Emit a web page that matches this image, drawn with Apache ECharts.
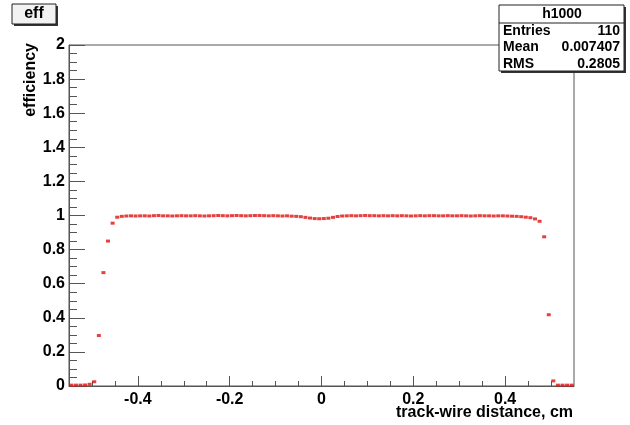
<!DOCTYPE html>
<html>
<head>
<meta charset="utf-8">
<title>eff</title>
<script src="https://cdn.jsdelivr.net/npm/echarts@6/dist/echarts.min.js"></script>
<style>
  html, body { margin: 0; padding: 0; background: #fff; }
  #chart { width: 630px; height: 425px; }
</style>
</head>
<body>
<div id="chart"></div>
<script>
// histogram h1000: 110 bins from -0.55 to 0.55
const binLow = -0.55;
const binWidth = 0.01;
const effValues = [
  0.005, 0.005, 0.005, 0.006, 0.01, 0.025, 0.296, 0.665, 0.85, 0.955, 0.99, 0.995,
  0.997, 0.998, 0.997, 0.998, 0.998, 0.997, 0.999, 1.0, 0.998, 0.998,
  0.997, 0.998, 0.999, 0.998, 0.998, 0.999, 0.998, 0.997, 0.998, 0.999,
  1.0, 0.999, 0.998, 0.999, 1.0, 0.999, 0.998, 0.999, 1.0, 1.0,
  0.999, 0.998, 0.999, 0.998, 0.997, 0.998, 0.996, 0.995,
  0.993, 0.989, 0.985, 0.982, 0.981, 0.982, 0.984, 0.989, 0.994,
  0.997, 0.998, 0.999, 0.998, 0.999, 1.0, 0.999, 0.999, 0.998, 0.999,
  0.998, 0.999, 0.998, 0.999, 0.998, 0.997, 0.998, 0.999, 0.998, 0.999,
  0.999, 0.998, 0.998, 0.999, 0.998, 0.998, 0.999, 0.998, 0.997, 0.998,
  0.999, 0.998, 0.998, 0.997, 0.998, 0.998, 0.997, 0.996, 0.995,
  0.993, 0.99, 0.987, 0.98, 0.966, 0.875, 0.418, 0.03, 0.005, 0.005, 0.005, 0.005
];
const xMajorTicks = [-0.4, -0.2, 0, 0.2, 0.4];
const xMinorTicks = [-0.5, -0.45, -0.4, -0.35, -0.3, -0.25, -0.2, -0.15, -0.1, -0.05, 0,
  0.05, 0.1, 0.15, 0.2, 0.25, 0.3, 0.35, 0.4, 0.45, 0.5];
const statRows = [['Entries', '110'], ['Mean', '0.007407'], ['RMS', '0.2805']];

const points = effValues.map((v, i) => [+(binLow + binWidth * (i + 0.5)).toFixed(3), v]);

const axisColor = '#555';
const font = '"Liberation Sans", Arial, sans-serif';

const chart = echarts.init(document.getElementById('chart'), null, { renderer: 'canvas' });

const statGraphics = [
  { type: 'rect', shape: { x: 501, y: 7, width: 125, height: 66 }, style: { fill: '#333' }, z: 100 },
  { type: 'rect', shape: { x: 499, y: 5, width: 125, height: 66 }, style: { fill: '#fff', stroke: '#222', lineWidth: 1 }, z: 101 },
  { type: 'line', shape: { x1: 499, y1: 23, x2: 624, y2: 23 }, style: { stroke: '#222', lineWidth: 1 }, z: 102 },
  { type: 'text', x: 562, y: 14, z: 102,
    style: { text: 'h1000', font: 'bold 14px ' + font, fill: '#000', textAlign: 'center', textVerticalAlign: 'middle' } }
];
statRows.forEach((r, i) => {
  const y = 31 + i * 16.5;
  statGraphics.push(
    { type: 'text', x: 503, y, z: 102,
      style: { text: r[0], font: 'bold 14px ' + font, fill: '#000', textAlign: 'left', textVerticalAlign: 'middle' } },
    { type: 'text', x: 620, y, z: 102,
      style: { text: r[1], font: 'bold 14px ' + font, fill: '#000', textAlign: 'right', textVerticalAlign: 'middle' } }
  );
});

chart.setOption({
  animation: false,
  backgroundColor: '#fff',
  grid: {
    left: 69, right: 56, top: 45, bottom: 39,
    show: true, borderColor: axisColor, borderWidth: 1, backgroundColor: 'transparent'
  },
  xAxis: [
    {
      type: 'value', min: -0.55, max: 0.55,
      axisLine: { show: true, onZero: false, lineStyle: { color: axisColor } },
      axisTick: { show: true, inside: true, length: 5, customValues: xMinorTicks, lineStyle: { color: axisColor } },
      axisLabel: { show: false },
      splitLine: { show: false }
    },
    {
      type: 'value', min: -0.55, max: 0.55, position: 'bottom',
      axisLine: { show: false, onZero: false },
      axisTick: { show: true, inside: true, length: 10, customValues: xMajorTicks, lineStyle: { color: axisColor } },
      axisLabel: {
        show: true, customValues: xMajorTicks, margin: 6,
        color: '#000', fontFamily: font, fontWeight: 'bold', fontSize: 16,
        formatter: v => String(v)
      },
      splitLine: { show: false }
    }
  ],
  yAxis: {
    type: 'value', min: 0, max: 2, interval: 0.2,
    axisLine: { show: true, onZero: false, lineStyle: { color: axisColor } },
    axisTick: { show: true, inside: true, length: 16, lineStyle: { color: axisColor } },
    minorTick: { show: true, splitNumber: 4, length: 8, lineStyle: { color: axisColor } },
    axisLabel: {
      margin: 4, color: '#000', fontFamily: font, fontWeight: 'bold', fontSize: 16,
      formatter: v => String(+v.toFixed(1))
    },
    splitLine: { show: false }
  },
  series: [{
    type: 'scatter',
    xAxisIndex: 0,
    data: points,
    symbol: 'rect',
    symbolSize: [4, 3],
    itemStyle: { color: '#dd1111' }
  }],
  graphic: [
    // title box
    { type: 'rect', shape: { x: 14, y: 6, width: 44, height: 20 }, style: { fill: '#333' }, z: 100 },
    { type: 'rect', shape: { x: 12, y: 4, width: 44, height: 20 }, style: { fill: '#f2f2f2', stroke: '#222', lineWidth: 1 }, z: 101 },
    { type: 'text', x: 34, y: 14, z: 102,
      style: { text: 'eff', font: 'bold 16px ' + font, fill: '#000', textAlign: 'center', textVerticalAlign: 'middle' } },
    // axis titles
    { type: 'text', x: 31, y: 43, rotation: Math.PI / 2, z: 50,
      style: { text: 'efficiency', font: 'bold 16px ' + font, fill: '#000', textAlign: 'right', textVerticalAlign: 'middle' } },
    { type: 'text', x: 573, y: 413, z: 50,
      style: { text: 'track-wire distance, cm', font: 'bold 16px ' + font, fill: '#000', textAlign: 'right', textVerticalAlign: 'middle' } },
    ...statGraphics
  ]
});
</script>
</body>
</html>
